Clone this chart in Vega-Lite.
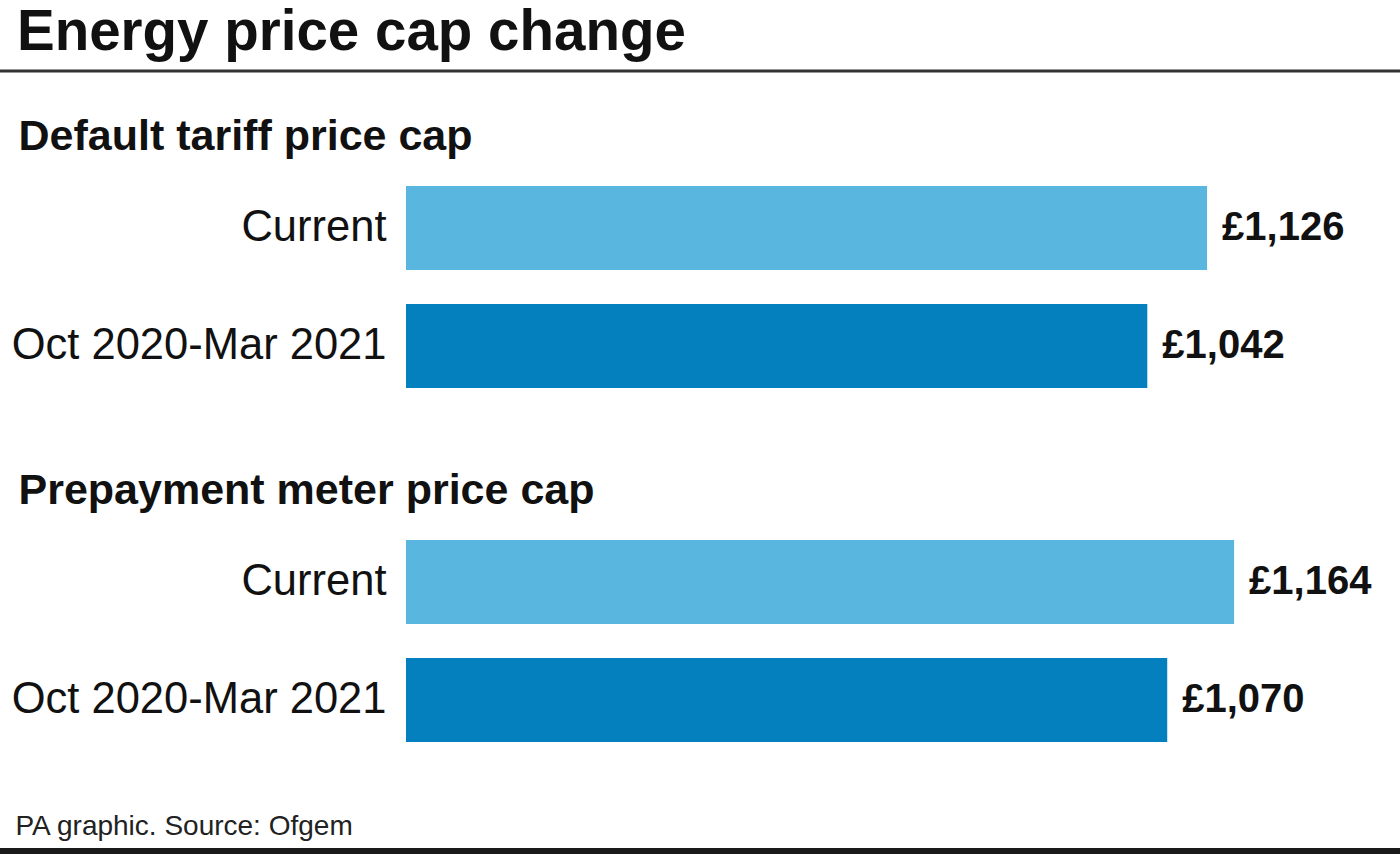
{
  "$schema": "https://vega.github.io/schema/vega-lite/v6.json",
  "width": 1400,
  "height": 674,
  "autosize": {"type": "none"},
  "padding": {"left": 0, "right": 0, "top": 68, "bottom": 112},
  "background": "white",
  "title": {
    "text": "Energy price cap change",
    "anchor": "start",
    "frame": "group",
    "dx": 17,
    "dy": 56,
    "offset": 18,
    "baseline": "alphabetic",
    "font": "Liberation Sans",
    "fontSize": 56.5,
    "fontWeight": "bold",
    "color": "#111111"
  },
  "config": {
    "view": {"stroke": null},
    "locale": {
      "number": {"decimal": ".", "thousands": ",", "grouping": [3], "currency": ["£", ""]}
    }
  },
  "data": {
    "values": [
      {"row": "Default tariff price cap|Current", "period": "Current", "value": 1126},
      {"row": "Default tariff price cap|Oct 2020-Mar 2021", "period": "Oct 2020-Mar 2021", "value": 1042},
      {"row": "Prepayment meter price cap|Current", "period": "Current", "value": 1164},
      {"row": "Prepayment meter price cap|Oct 2020-Mar 2021", "period": "Oct 2020-Mar 2021", "value": 1070}
    ]
  },
  "encoding": {
    "y": {
      "field": "row",
      "type": "nominal",
      "sort": null,
      "scale": {
        "domain": [
          "Default tariff price cap",
          "Default tariff price cap|Current",
          "Default tariff price cap|Oct 2020-Mar 2021",
          "Prepayment meter price cap",
          "Prepayment meter price cap|Current",
          "Prepayment meter price cap|Oct 2020-Mar 2021"
        ],
        "paddingInner": 0.2881,
        "paddingOuter": 0
      },
      "axis": {
        "title": null,
        "domain": false,
        "ticks": false,
        "tickSize": 0,
        "grid": false,
        "labelLimit": 1000,
        "labelExpr": "peek(split(datum.value, '|'))",
        "labelFont": "Liberation Sans",
        "labelColor": "#111111",
        "labelBaseline": "middle",
        "labelFontSize": {"condition": {"test": "indexof(datum.value, '|') < 0", "value": 43}, "value": 43.5},
        "labelFontWeight": {"condition": {"test": "indexof(datum.value, '|') < 0", "value": "bold"}, "value": "normal"},
        "labelAlign": {"condition": {"test": "indexof(datum.value, '|') < 0", "value": "left"}, "value": "right"},
        "labelPadding": {"condition": {"test": "indexof(datum.value, '|') < 0", "value": -18}, "value": -386},
        "labelOffset": {"condition": {"test": "indexof(datum.value, '|') < 0", "value": 27}, "value": 0}
      }
    }
  },
  "layer": [
    {
      "mark": {"type": "bar"},
      "encoding": {
        "x": {
          "field": "value",
          "type": "quantitative",
          "scale": {"domain": [0, 1400], "range": [406, 1402], "nice": false, "zero": true},
          "axis": {
            "orient": "bottom",
            "domain": false,
            "ticks": false,
            "labels": false,
            "grid": false,
            "title": "PA graphic. Source: Ofgem",
            "titleX": 15,
            "titleY": 84,
            "titleAlign": "left",
            "titleAnchor": "start",
            "titleBaseline": "middle",
            "titleFont": "Liberation Sans",
            "titleFontSize": 28,
            "titleFontWeight": "normal",
            "titleColor": "#222222"
          }
        },
        "color": {
          "field": "period",
          "type": "nominal",
          "scale": {"domain": ["Current", "Oct 2020-Mar 2021"], "range": ["#58b6df", "#0380bd"]},
          "legend": null
        }
      }
    },
    {
      "mark": {
        "type": "text",
        "align": "left",
        "baseline": "middle",
        "dx": 15,
        "font": "Liberation Sans",
        "fontSize": 40,
        "fontWeight": "bold",
        "color": "#111111"
      },
      "encoding": {
        "x": {"field": "value", "type": "quantitative"},
        "text": {"field": "value", "type": "quantitative", "format": "$,.0f"}
      }
    },
    {
      "data": {"values": [{"line": "top"}]},
      "mark": {"type": "rule", "color": "#333333", "strokeWidth": 3, "yOffset": -39},
      "encoding": {
        "y": {"datum": "Default tariff price cap"}
      }
    },
    {
      "data": {"values": [{"line": "bottom"}]},
      "mark": {"type": "rule", "color": "#1a1a1a", "strokeWidth": 6, "yOffset": 151},
      "encoding": {
        "y": {"datum": "Prepayment meter price cap|Oct 2020-Mar 2021"}
      }
    }
  ]
}
